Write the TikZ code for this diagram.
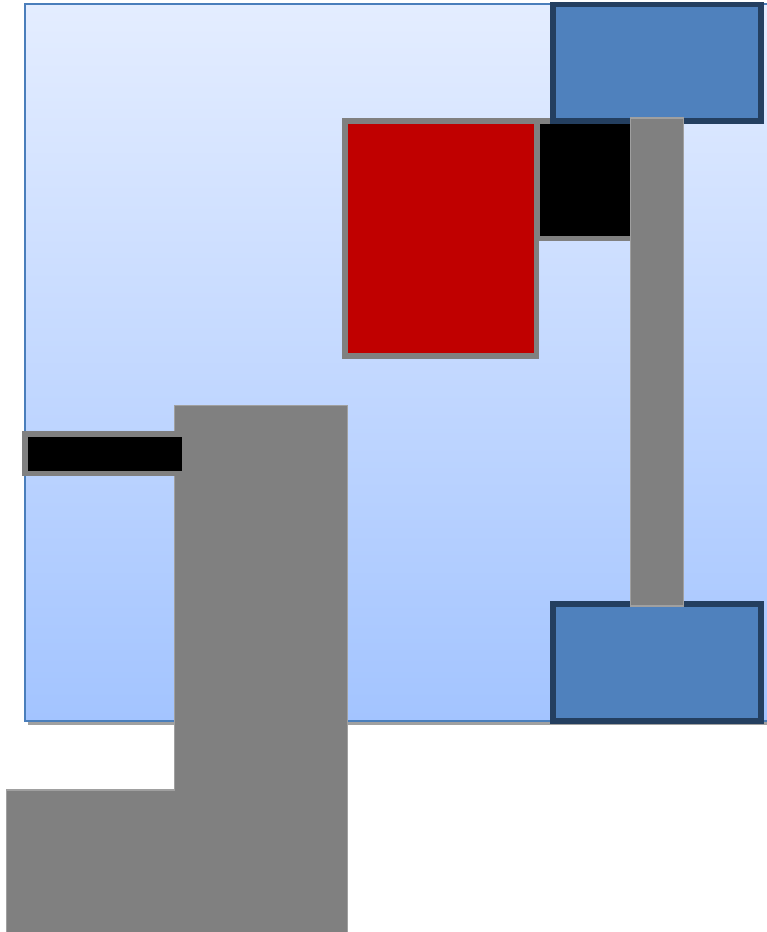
\documentclass[tikz,border=0pt]{standalone}
\usepackage{xcolor}
\definecolor{skytop}{RGB}{228,237,255}
\definecolor{skybottom}{RGB}{163,196,255}
\definecolor{skyedge}{RGB}{74,126,187}
\definecolor{padblue}{RGB}{79,129,189}
\definecolor{padedge}{RGB}{36,63,96}
\definecolor{partgray}{RGB}{128,128,128}
\definecolor{partedge}{RGB}{160,160,160}
\definecolor{partred}{RGB}{192,0,0}

\begin{document}
\begin{tikzpicture}[
    x=0.01cm, y=-0.01cm,
    pad/.style={fill=padblue, draw=padedge, line width=1.45pt},
    block/.style={draw=partgray, line width=1.5pt},
    beam/.style={fill=partgray, draw=partedge, line width=0.3pt}
]
\useasboundingbox (0,0) rectangle (767,932);

% Background panel with shadow
\fill[partedge] (28,719) rectangle (772,725);
\draw[skyedge, line width=0.6pt, top color=skytop, bottom color=skybottom] (25,4) rectangle (772,721);

% Stand and arm on the left
\draw[beam] (174.5,405.5) -- (347.5,405.5) -- (347.5,940) -- (6.5,940) -- (6.5,790) -- (174.5,790) -- cycle;
\draw[block, fill=black] (25,434) rectangle (184.5,473.5);

% Red block and black holder
\draw[block, fill=partred] (345,121) rectangle (536.7,356);
\draw[block, fill=black] (537,121) rectangle (633,238.5);

% Blue pads and rail
\draw[pad] (553,4.5) rectangle (761,121);
\draw[pad] (553,604) rectangle (761,721);
\draw[beam] (630.5,118) rectangle (683.5,606);
\end{tikzpicture}
\end{document}
